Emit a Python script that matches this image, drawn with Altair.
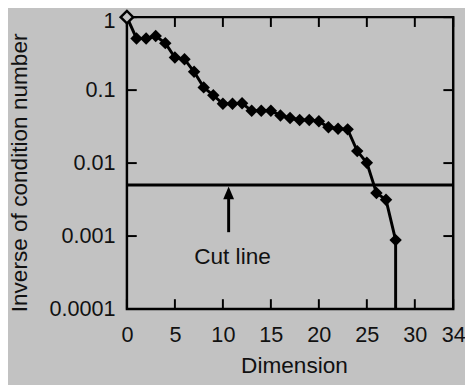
import altair as alt
import pandas as pd

# ---- data ----
dimension = list(range(0, 29))
inverse_cond = [1.0, 0.51, 0.51, 0.55, 0.44, 0.28, 0.265, 0.178, 0.109, 0.085,
                0.065, 0.065, 0.066, 0.052, 0.052, 0.052, 0.045, 0.0415, 0.039, 0.039,
                0.0375, 0.031, 0.0295, 0.029, 0.0146, 0.0101, 0.0039, 0.00314, 0.00088]
x_ticks = [0, 5, 10, 15, 20, 25, 30, 34]
y_ticks = [1, 0.1, 0.01, 0.001, 0.0001]
x_domain = [0, 34]
y_domain = [0.0001, 1]
cut_value = [0.005]
arrow_x = [10.6]
arrow_bottom = [0.00113]
arrow_top = [0.0036]
arrow_head = [0.0039]
label_x = [11.0]
label_y = [0.00052]
label_text = ["Cut line"]

W, H = 332, 297
BG = "#c2c2c2"
INK = "#111111"
FONT = "Liberation Sans"

df = pd.DataFrame({"dim": dimension, "inv": inverse_cond})
df_first = df.iloc[[0]]
df_rest = df.iloc[1:]
df_last = pd.DataFrame({"dim": [dimension[-1]], "inv": [inverse_cond[-1]], "low": [y_domain[0]]})
df_cut = pd.DataFrame({"dim": [x_domain[0]], "dim2": [x_domain[1]], "inv": cut_value})
df_arrow = pd.DataFrame({"dim": arrow_x, "inv": arrow_bottom, "inv2": arrow_top})
df_head = pd.DataFrame({"dim": arrow_x, "inv": arrow_head})
df_label = pd.DataFrame({"dim": label_x, "inv": label_y, "t": label_text})
df_xt = pd.DataFrame({"dim": x_ticks})
df_yt = pd.DataFrame({"inv": y_ticks})

xs = alt.Scale(domain=x_domain, nice=False, zero=False)
ys = alt.Scale(type="log", domain=y_domain, nice=False)

x_axis = alt.Axis(values=x_ticks, ticks=False, domain=False, grid=False,
                  labelFontSize=22, labelFont=FONT, labelColor=INK, labelPadding=16,
                  labelFlush=False, labelOverlap=False,
                  title="Dimension", titleFontSize=23, titleFont=FONT, titleColor=INK,
                  titleFontWeight="normal", titleX=170, titleY=47, titleBaseline="top",
                  titleAlign="center")
y_axis = alt.Axis(values=y_ticks, format="~g", ticks=False, domain=False, grid=False,
                  labelFontSize=22, labelFont=FONT, labelColor=INK, labelPadding=12,
                  labelFlush=False, labelOverlap=False,
                  labelOffset={"condition": {"test": "datum.value == 1", "value": 4}, "value": 0},
                  title="Inverse of condition number", titleFontSize=23, titleFont=FONT,
                  titleColor=INK, titleFontWeight="normal", titleAngle=270,
                  titleBaseline="top", titleX=-120, titleY=158, titleAlign="center")

X = alt.X("dim:Q", scale=xs, axis=x_axis)
Y = alt.Y("inv:Q", scale=ys, axis=y_axis)

line = alt.Chart(df).mark_line(color="black", strokeWidth=3).encode(x=X, y=Y)
pts = alt.Chart(df_rest).mark_point(shape="diamond", filled=True, size=160,
                                    color="black", opacity=1).encode(x=X, y=Y)
hollow = alt.Chart(df_first).mark_point(shape="diamond", size=160, fill=BG, fillOpacity=1,
                                        stroke="black", strokeWidth=2.5, opacity=1).encode(x=X, y=Y)
drop = alt.Chart(df_last).mark_rule(color="black", strokeWidth=3).encode(x=X, y=Y, y2="low:Q")
cut = alt.Chart(df_cut).mark_rule(color="black", strokeWidth=3).encode(x=X, x2="dim2:Q", y=Y)
shaft = alt.Chart(df_arrow).mark_rule(color="black", strokeWidth=3).encode(x=X, y=Y, y2="inv2:Q")
head = alt.Chart(df_head).mark_point(shape="M0,-1L0.85,1L-0.85,1Z", size=169, filled=True,
                                     color="black", opacity=1).encode(x=X, y=Y)
label = alt.Chart(df_label).mark_text(fontSize=23, font=FONT, color=INK, align="center",
                                      baseline="middle").encode(x=X, y=Y, text="t:N")

tick_len = 10
bt = alt.Chart(df_xt).mark_rule(color="black", strokeWidth=2).encode(
    x=X, y=alt.value(H), y2=alt.value(H - tick_len))
tt = alt.Chart(df_xt).mark_rule(color="black", strokeWidth=2).encode(
    x=X, y=alt.value(0), y2=alt.value(tick_len))
lt = alt.Chart(df_yt).mark_rule(color="black", strokeWidth=2).encode(
    y=Y, x=alt.value(0), x2=alt.value(tick_len))
rt = alt.Chart(df_yt).mark_rule(color="black", strokeWidth=2).encode(
    y=Y, x=alt.value(W), x2=alt.value(W - tick_len))

chart = alt.layer(line, drop, cut, shaft, head, label, bt, tt, lt, rt, pts, hollow).properties(
    width=W, height=H,
    padding={"left": 121, "top": 6, "right": 12, "bottom": 74},
    autosize=alt.AutoSizeParams(type="none"),
    background=BG,
).configure_view(stroke="black", strokeWidth=2.5)

chart.save("out.html", embed_options={"renderer": "svg", "actions": False})
